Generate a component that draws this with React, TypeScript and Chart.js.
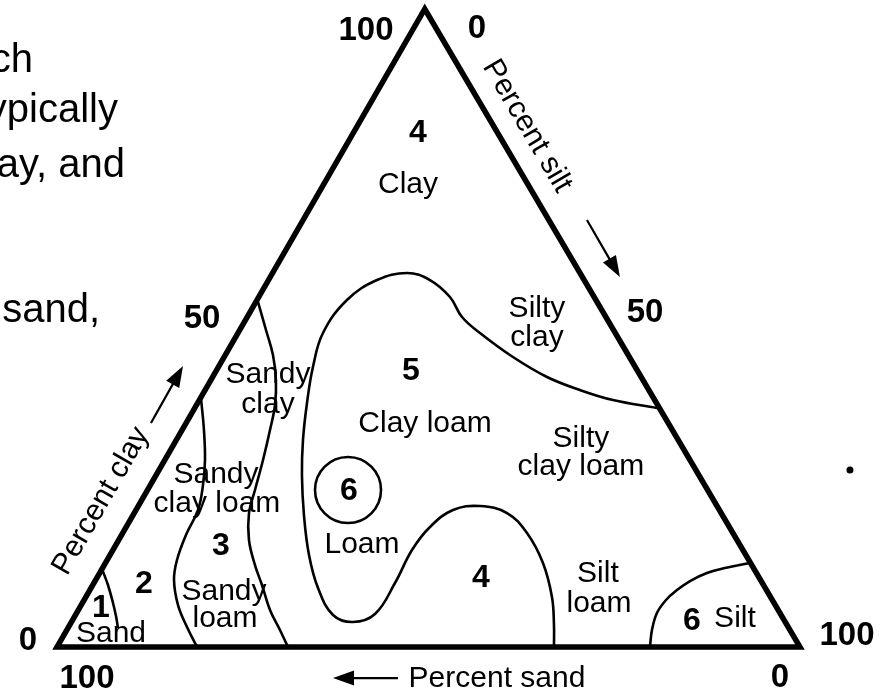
import React, { useEffect, useRef } from "react";
import { Chart, registerables } from "chart.js";

Chart.register(...registerables);

// Coordinates: x = position along the base (0 = 100% sand corner, 100 = 100% silt corner),
// y = percent clay (0 at the base, 100 at the apex).
const triangleX = [0, 100, 49.5, 0, 100];
const triangleY = [0, 0, 100, 0, 0];

// Boundary: Sand | Loamy sand (zone 1 | 2)
const sandLineX = [6.06, 6.86, 7.54, 7.94, 8.21];
const sandLineY = [12.23, 9.72, 6.9, 4.86, 2.98];

// Boundary: zone 2 | zone 3
const zone2LineX = [19.38, 19.78, 19.92, 19.65, 18.98, 17.36, 16.15, 15.75, 16.29, 17.5, 18.84];
const zone2LineY = [39.03, 34.01, 29.31, 25.39, 21.47, 17.55, 13.64, 10.5, 6.58, 3.13, 0];

// Boundary: Sandy clay / Sandy clay loam / Sandy loam (right side)
const sandyLineX = [27.05, 28.13, 29.07, 29.47, 29.34, 28.67, 27.73, 26.65, 25.84, 25.84, 26.65, 27.59, 28.67, 30.01, 31.09];
const sandyLineY = [54.08, 49.69, 45.77, 41.85, 37.93, 34.01, 29.31, 24.61, 21.0, 16.77, 12.85, 9.72, 5.8, 2.66, 0];

// Boundary: Clay loam / Loam / zone 4 (silt loam) big curve
const loamLineX = [80.75, 74.83, 70.39, 65.95, 61.37, 56.93, 54.51, 52.89, 50.2, 47.11, 43.07, 39.03, 35.8, 34.45, 33.65, 33.11, 32.97, 33.24, 33.92, 35.13, 37.15, 39.84, 42.8, 45.49, 47.78, 50.2, 53.3, 56.93, 60.57, 63.26, 65.41, 66.62, 66.89, 66.89];
const loamLineY = [37.46, 38.71, 40.28, 42.32, 45.45, 49.22, 51.72, 54.86, 57.52, 58.62, 57.52, 54.39, 49.22, 43.89, 38.24, 32.45, 26.96, 20.69, 14.42, 9.25, 5.02, 3.92, 5.17, 10.03, 15.2, 18.81, 21.47, 22.1, 21.0, 17.87, 13.17, 7.84, 3.45, 0];

// Boundary: Silt corner
const siltLineX = [79.81, 80.08, 80.75, 81.97, 83.45, 85.2, 87.48, 89.91, 93.27];
const siltLineY = [0, 2.66, 5.33, 7.37, 8.93, 10.34, 11.6, 12.38, 13.17];

// Circled "6" in Loam
const loamCircleX = [39.17];
const loamCircleY = [24.61];

// stray mark
const dotX = [106.73];
const dotY = [27.74];

// Region names (centre x, baseline y)
const regionText = ["Clay", "Silty", "clay", "Clay loam", "Silty", "clay loam", "Sandy", "clay", "Sandy", "clay loam", "Sandy", "loam", "Loam", "Silt", "loam", "Silt", "Sand"];
const regionX = [47.24, 64.6, 64.6, 49.53, 70.52, 70.52, 28.4, 28.4, 21.4, 21.53, 22.48, 22.61, 41.05, 72.81, 72.95, 91.25, 7.27];
const regionY = [71.21, 51.77, 47.18, 33.75, 31.39, 26.96, 41.33, 36.63, 25.78, 21.21, 7.37, 3.18, 14.73, 10.23, 5.53, 3.18, 0.83];

// Zone numbers (bold)
const zoneText = ["4", "5", "6", "4", "3", "2", "1", "6"];
const zoneX = [48.59, 47.64, 39.3, 57.07, 22.07, 11.71, 5.92, 85.46];
const zoneY = [79.2, 41.85, 23.04, 9.45, 14.42, 8.46, 4.7, 2.66];

// Axis tick labels (bold)
const tickText = ["100", "0", "50", "50", "0", "100", "100", "0"];
const tickX = [41.59, 56.53, 19.52, 79.14, -3.9, 106.33, 4.04, 97.31];
const tickY = [95.14, 95.45, 50.0, 50.99, -0.47, 0.31, -6.43, -6.27];

// Axis titles
const claTitle = "Percent clay";
const claTitleX = 5.92;
const claTitleY = 22.88;
const siltTitle = "Percent silt";
const siltTitleX = 63.26;
const siltTitleY = 81.66;
const sandTitle = "Percent sand";
const sandTitleX = 59.22;
const sandTitleY = -6.27;

// Arrows: from (x0,y0) to tip (x1,y1)
const arrowX0 = [12.65, 71.33, 45.89];
const arrowY0 = [35.11, 66.93, -4.86];
const arrowX1 = [16.96, 75.77, 37.15];
const arrowY1 = [44.04, 57.99, -4.86];

// Cropped paragraph text at the left (right aligned, baseline)
const paraText = ["ch", "ypically", "ay, and", "sand,"];
const paraX = [-3.23, 8.21, 9.15, 5.79];
const paraY = [90.13, 82.29, 73.67, 50.94];

const X_MIN = -7.67;
const X_MAX = 111.31;
const Y_MIN = -7.05;
const Y_MAX = 101.41;

const FONT = "'Liberation Sans', Arial, Helvetica, sans-serif";

const pts = (xs: number[], ys: number[]) => xs.map((v, i) => ({ x: v, y: ys[i] }));

const overlayPlugin = {
  id: "overlay",
  afterDatasetsDraw(chart: any) {
    const ctx: CanvasRenderingContext2D = chart.ctx;
    const sx = chart.scales.x;
    const sy = chart.scales.y;
    const px = (v: number) => sx.getPixelForValue(v);
    const py = (v: number) => sy.getPixelForValue(v);
    ctx.save();
    ctx.fillStyle = "#000";
    ctx.strokeStyle = "#000";

    // region names
    ctx.textAlign = "center";
    ctx.textBaseline = "alphabetic";
    ctx.font = `30px ${FONT}`;
    regionText.forEach((t, i) => ctx.fillText(t, px(regionX[i]), py(regionY[i])));

    // zone numbers
    ctx.font = `bold 32px ${FONT}`;
    zoneText.forEach((t, i) => ctx.fillText(t, px(zoneX[i]), py(zoneY[i])));

    // tick labels
    ctx.font = `bold 33px ${FONT}`;
    tickText.forEach((t, i) => ctx.fillText(t, px(tickX[i]), py(tickY[i])));

    // paragraph fragments
    ctx.font = `40px ${FONT}`;
    ctx.textAlign = "right";
    paraText.forEach((t, i) => ctx.fillText(t, px(paraX[i]), py(paraY[i])));

    // axis titles
    ctx.font = `30px ${FONT}`;
    ctx.textAlign = "center";
    ctx.fillText(sandTitle, px(sandTitleX), py(sandTitleY));

    ctx.textBaseline = "middle";
    const leftAng = Math.atan2(py(triangleY[2]) - py(triangleY[0]), px(triangleX[2]) - px(triangleX[0]));
    ctx.save();
    ctx.translate(px(claTitleX), py(claTitleY));
    ctx.rotate(leftAng);
    ctx.fillText(claTitle, 0, 0);
    ctx.restore();

    const rightAng = Math.atan2(py(triangleY[1]) - py(triangleY[2]), px(triangleX[1]) - px(triangleX[2]));
    ctx.save();
    ctx.translate(px(siltTitleX), py(siltTitleY));
    ctx.rotate(rightAng);
    ctx.fillText(siltTitle, 0, 0);
    ctx.restore();

    // arrows
    arrowX0.forEach((_, i) => {
      const x0 = px(arrowX0[i]);
      const y0 = py(arrowY0[i]);
      const x1 = px(arrowX1[i]);
      const y1 = py(arrowY1[i]);
      const ang = Math.atan2(y1 - y0, x1 - x0);
      const L = 21;
      const W = 7.5;
      const bx = x1 - L * Math.cos(ang);
      const by = y1 - L * Math.sin(ang);
      ctx.lineWidth = 2.2;
      ctx.beginPath();
      ctx.moveTo(x0, y0);
      ctx.lineTo(bx + 2 * Math.cos(ang), by + 2 * Math.sin(ang));
      ctx.stroke();
      ctx.beginPath();
      ctx.moveTo(x1, y1);
      ctx.lineTo(bx - W * Math.sin(ang), by + W * Math.cos(ang));
      ctx.lineTo(bx + W * Math.sin(ang), by - W * Math.cos(ang));
      ctx.closePath();
      ctx.fill();
    });

    ctx.restore();
  },
};

export default function App() {
  const canvasRef = useRef<HTMLCanvasElement | null>(null);

  useEffect(() => {
    document.body.style.margin = "0";
    document.body.style.background = "#fff";
    const canvas = canvasRef.current;
    if (!canvas) return;
    const curve = (xs: number[], ys: number[], width: number, tension: number) => ({
      data: pts(xs, ys),
      showLine: true,
      borderColor: "#000",
      borderWidth: width,
      tension,
      pointRadius: 0,
      fill: false,
      borderJoinStyle: "miter" as const,
      borderCapStyle: "butt" as const,
    });
    const chart = new Chart(canvas, {
      type: "scatter",
      data: {
        datasets: [
          curve(triangleX, triangleY, 5.5, 0),
          curve(sandLineX, sandLineY, 2.6, 0.4),
          curve(zone2LineX, zone2LineY, 2.6, 0.4),
          curve(sandyLineX, sandyLineY, 2.6, 0.4),
          curve(loamLineX, loamLineY, 2.6, 0.4),
          curve(siltLineX, siltLineY, 2.6, 0.4),
          {
            data: pts(loamCircleX, loamCircleY),
            showLine: false,
            pointRadius: 33,
            pointBorderWidth: 2.6,
            pointBorderColor: "#000",
            pointBackgroundColor: "rgba(0,0,0,0)",
          },
          {
            data: pts(dotX, dotY),
            showLine: false,
            pointRadius: 3.5,
            pointBorderWidth: 0,
            pointBackgroundColor: "#000",
          },
        ],
      },
      options: {
        animation: false,
        responsive: false,
        devicePixelRatio: 1,
        events: [],
        layout: { padding: 0, autoPadding: false },
        plugins: { legend: { display: false }, tooltip: { enabled: false } },
        scales: {
          x: { type: "linear", min: X_MIN, max: X_MAX, display: false },
          y: { type: "linear", min: Y_MIN, max: Y_MAX, display: false },
        },
      },
      plugins: [overlayPlugin],
    });
    return () => chart.destroy();
  }, []);

  return (
    <canvas
      ref={canvasRef}
      width={884}
      height={692}
      style={{ display: "block", width: 884, height: 692, background: "#fff" }}
    />
  );
}
